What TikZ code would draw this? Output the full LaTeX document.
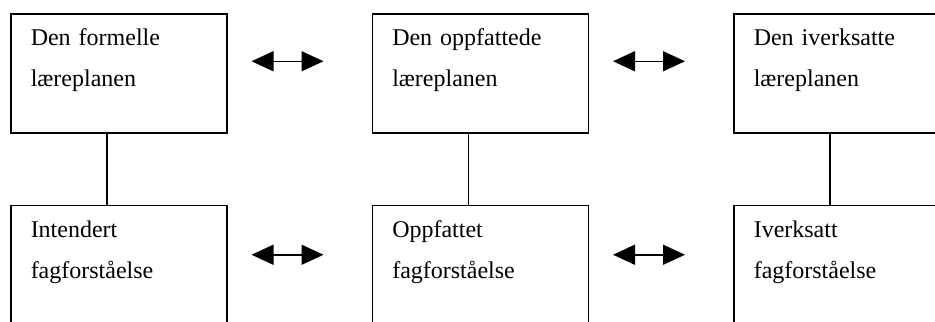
\documentclass[tikz,border=0pt]{standalone}
\usepackage{fontspec}
\setmainfont{Liberation Serif}
\usetikzlibrary{arrows.meta, positioning}

\tikzset{
  plan/.style={draw, rectangle, line width=0.75pt, inner xsep=10pt, inner ysep=0pt,
    text width=88pt, align=left, text height=16pt, text depth=43.5pt,
    font=\fontsize{12}{20.5}\selectfont},
  veksel/.style={{Triangle[length=11pt,width=10pt]}-{Triangle[length=11pt,width=10pt]}, line width=0.75pt}
}

\begin{document}
\begin{tikzpicture}
\useasboundingbox (0,0) rectangle (467.5pt,-160.5pt);
\clip (0,0) rectangle (467.5pt,-160.5pt);
% laereplanene
\node[plan, anchor=north west] (formell) at (5pt,-6.5pt) {Den formelle\\læreplanen};
\node[plan, right=72pt of formell] (oppfattet) {Den oppfattede\\læreplanen};
\node[plan, right=72pt of oppfattet] (iverksatt) {Den iverksatte\\læreplanen};
% fagforstaaelse
\node[plan, below=35.5pt of formell] (intendert) {Intendert\\fagforståelse};
\node[plan, below=35.5pt of oppfattet] (oppfattetfag) {Oppfattet\\fagforståelse};
\node[plan, below=35.5pt of iverksatt] (iverksattfag) {Iverksatt\\fagforståelse};
\draw[line width=0.75pt] ([xshift=-6pt]formell.south) -- ([xshift=-6pt]intendert.north);
\draw[line width=0.75pt] ([xshift=-6pt]oppfattet.south) -- ([xshift=-6pt]oppfattetfag.north);
\draw[line width=0.75pt] ([xshift=-6pt]iverksatt.south) -- ([xshift=-6pt]iverksattfag.north);
\draw[veksel] ([xshift=12pt,yshift=6pt]formell.east) -- ([xshift=-24pt,yshift=6pt]oppfattet.west);
\draw[veksel] ([xshift=12pt,yshift=6pt]oppfattet.east) -- ([xshift=-24pt,yshift=6pt]iverksatt.west);
\draw[veksel] ([xshift=12pt,yshift=5pt]intendert.east) -- ([xshift=-24pt,yshift=5pt]oppfattetfag.west);
\draw[veksel] ([xshift=12pt,yshift=5pt]oppfattetfag.east) -- ([xshift=-24pt,yshift=5pt]iverksattfag.west);
\end{tikzpicture}
\end{document}
